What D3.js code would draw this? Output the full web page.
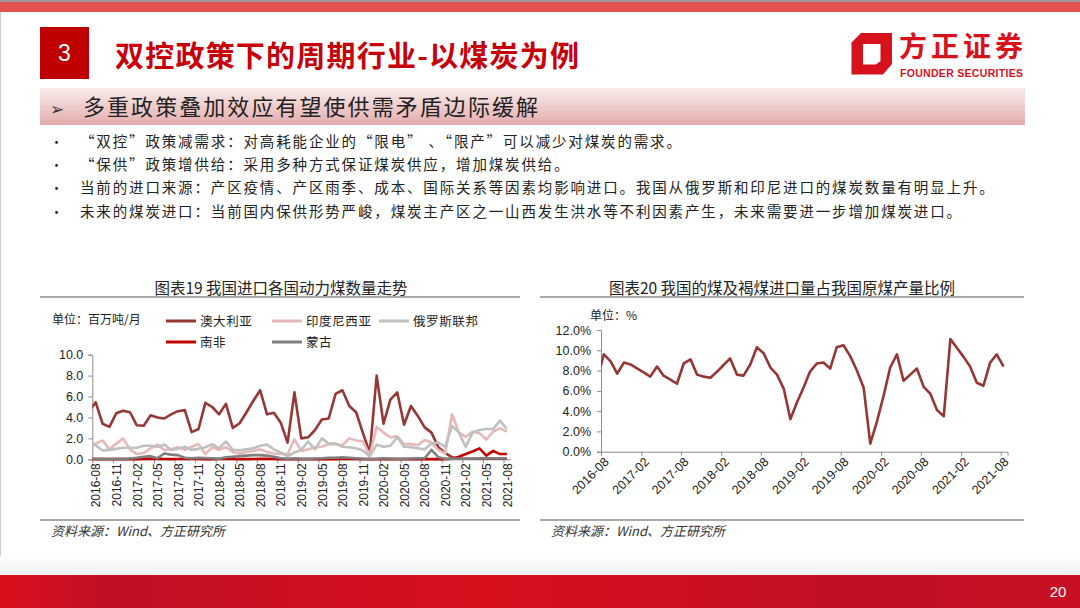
<!DOCTYPE html>
<html>
<head>
<meta charset="utf-8">
<script src="https://cdnjs.cloudflare.com/ajax/libs/d3/7.8.5/d3.min.js"></script>
<style>
  html, body { margin: 0; padding: 0; background: #fff; }
  svg { display: block; font-family: "Noto Sans CJK SC", "Liberation Sans", sans-serif; }
  .num { font-family: "Liberation Sans", Arial, sans-serif; }
</style>
</head>
<body>
<svg id="page" width="1080" height="608"></svg>
<script>
// months 2016-07 .. 2021-08 (first month sits left of the axis and gets clipped)
var months = d3.timeMonth.range(new Date(2016, 6, 1), new Date(2021, 8, 1));

// chart 19 : 百万吨/月
var australia = [4.55, 5.45, 3.4, 3.1, 4.4, 4.65, 4.5, 3.25, 3.2, 4.2, 4.0, 3.9, 4.3, 4.6, 4.7, 2.6, 2.9, 5.4, 5.0, 4.3, 5.3, 3.0, 3.45, 4.5, 5.6, 6.6, 4.3, 4.45, 3.5, 1.6, 6.4, 2.0,
  2.1, 2.8, 3.8, 3.9, 6.25, 6.6, 5.1, 4.5, 2.5, 0.6, 8.0, 3.4, 5.7, 6.4, 3.3, 5.1, 4.15, 3.05, 2.55, 1.15, 0.6, 0.2,
  0.05, 0.05, 0.05, 0.05, 0.05, 0.05, 0.05, 0.05];
var indonesia = [1.3, 1.5, 1.8, 0.95, 1.5, 2.0, 0.95, 0.5, 0.6, 1.05, 1.4, 0.9, 0.95, 1.15, 0.9, 1.2, 1.45, 0.5, 1.15, 0.9, 1.15, 0.7, 0.55, 0.7, 0.8, 0.95, 0.7, 0.55, 0.5, 0.5, 1.9, 0.8,
  0.95, 1.15, 1.2, 1.45, 1.45, 1.35, 2.0, 1.8, 1.7, 0.4, 3.1, 2.55, 2.1, 2.2, 1.45, 1.45, 1.35, 1.85, 1.6, 0.9,
  0.55, 4.3, 2.55, 2.15, 2.65, 2.5, 1.9, 2.65, 2.95, 2.65];
var russia = [1.4, 1.35, 0.85, 0.9, 1.0, 1.1, 1.1, 1.1, 1.3, 1.3, 1.2, 1.4, 0.9, 1.0, 1.2, 0.9, 1.0, 1.15, 1.45, 1.05, 1.7, 0.9, 0.85, 0.95, 1.05, 1.3, 1.4, 0.95, 0.65, 0.3, 0.65, 0.9,
  1.7, 0.95, 2.0, 1.5, 1.5, 1.2, 1.15, 1.05, 0.85, 0.3, 1.4, 1.2, 1.3, 2.1, 1.2, 1.15, 1.05, 0.95, 1.5, 1.6,
  1.2, 3.2, 2.55, 1.2, 2.55, 2.8, 2.9, 2.9, 3.7, 2.9];
var southAfrica = [0.02, 0.02, 0.03, 0.02, 0.02, 0.03, 0.02, 0.02, 0.03, 0.05, 0.04, 0.03, 0.02, 0.03, 0.05, 0.04, 0.03, 0.02, 0.02, 0.03,
  0.04, 0.03, 0.02, 0.02, 0.03, 0.04, 0.05, 0.03, 0.02, 0.02, 0.02, 0.03, 0.02, 0.02, 0.03, 0.02, 0.02, 0.03, 0.04, 0.03,
  0.02, 0.02, 0.02, 0.03, 0.02, 0.02, 0.03, 0.02, 0.02, 0.02, 0.03, 0.02, 0.02, 0.05,
  0.25, 0.5, 0.75, 1.05, 0.35, 0.8, 0.5, 0.5];
var mongolia = [0.05, 0.05, 0.05, 0.03, 0.05, 0.05, 0.08, 0.15, 0.25, 0.3, 0.1, 0.55, 0.45, 0.4, 0.15, 0.1, 0.15, 0.12, 0.1, 0.05, 0.2,
  0.25, 0.3, 0.35, 0.4, 0.4, 0.35, 0.25, 0.1, 0.05, 0.1, 0.05, 0.05, 0.08, 0.1, 0.15, 0.15, 0.2, 0.15, 0.1, 0.05,
  0.03, 0.05, 0.1, 0.08, 0.05, 0.05, 0.08, 0.1, 0.1, 0.9, 0.2, 0.05, 0.05, 0.05, 0.05, 0.08, 0.1, 0.1, 0.1, 0.1, 0.1];

var seriesNames = ["澳大利亚", "印度尼西亚", "俄罗斯联邦", "南非", "蒙古"];
var seriesColors = ["#953735", "#e6b9b8", "#c0c0c0", "#c00000", "#7f7f7f"];
var seriesData = [australia, indonesia, russia, southAfrica, mongolia];

var leftTicks = ["2016-08", "2016-11", "2017-02", "2017-05", "2017-08", "2017-11", "2018-02", "2018-05", "2018-08", "2018-11",
  "2019-02", "2019-05", "2019-08", "2019-11", "2020-02", "2020-05", "2020-08", "2020-11", "2021-02", "2021-05", "2021-08"];
var leftY = [0, 2, 4, 6, 8, 10];

// chart 20 : 煤及褐煤进口量 / 原煤产量, %
var importRatio = [7.2, 9.6, 8.9, 7.7, 8.8, 8.6,
  8.2, 7.8, 7.4, 8.4, 7.5, 7.1, 6.7, 8.7, 9.1, 7.6, 7.4, 7.3,
  7.9, 8.6, 9.2, 7.6, 7.5, 8.6, 10.3, 9.7, 8.3, 7.6, 6.2, 3.2,
  4.9, 6.4, 7.9, 8.7, 8.8, 8.2, 10.3, 10.5, 9.4, 8.0, 6.3, 0.8,
  3.0, 5.6, 8.3, 9.6, 7.0, 7.6, 8.2, 6.4, 5.7, 4.1, 3.5, 11.1,
  10.2, 9.3, 8.4, 6.8, 6.5, 8.8, 9.6, 8.4];
var rightTicks = ["2016-08", "2017-02", "2017-08", "2018-02", "2018-08", "2019-02", "2019-08", "2020-02", "2020-08", "2021-02", "2021-08"];
var rightY = [0, 2, 4, 6, 8, 10, 12];

var bullets = [
  "“双控”政策减需求：对高耗能企业的“限电” 、“限产”可以减少对煤炭的需求。",
  "“保供”政策增供给：采用多种方式保证煤炭供应，增加煤炭供给。",
  "当前的进口来源：产区疫情、产区雨季、成本、国际关系等因素均影响进口。我国从俄罗斯和印尼进口的煤炭数量有明显上升。",
  "未来的煤炭进口：当前国内保供形势严峻，煤炭主产区之一山西发生洪水等不利因素产生，未来需要进一步增加煤炭进口。"
];

var svg = d3.select("#page");
var defs = svg.append("defs");

// ---------- page frame ----------
var bandGrad = defs.append("linearGradient").attr("id", "band").attr("x1", 0).attr("y1", 0).attr("x2", 0).attr("y2", 1);
bandGrad.append("stop").attr("offset", "0%").attr("stop-color", "#f9ecec");
bandGrad.append("stop").attr("offset", "100%").attr("stop-color", "#e4acac");
var footGrad = defs.append("linearGradient").attr("id", "foot").attr("x1", 0).attr("y1", 0).attr("x2", 1).attr("y2", 0);
footGrad.append("stop").attr("offset", "0%").attr("stop-color", "#d9101c");
footGrad.append("stop").attr("offset", "10%").attr("stop-color", "#c10f25");
footGrad.append("stop").attr("offset", "45%").attr("stop-color", "#d70f1c");
footGrad.append("stop").attr("offset", "80%").attr("stop-color", "#c10f25");
footGrad.append("stop").attr("offset", "100%").attr("stop-color", "#c90f22");
var shadeGrad = defs.append("linearGradient").attr("id", "shade").attr("x1", 0).attr("y1", 0).attr("x2", 0).attr("y2", 1);
shadeGrad.append("stop").attr("offset", "0%").attr("stop-color", "#ffffff");
shadeGrad.append("stop").attr("offset", "100%").attr("stop-color", "#eef0f2");

svg.append("rect").attr("x", 0).attr("y", 0).attr("width", 1080).attr("height", 2).attr("fill", "#9a9a9a");
svg.append("rect").attr("x", 0).attr("y", 2).attr("width", 1080).attr("height", 10).attr("fill", "#e2524e");
svg.append("rect").attr("x", 0).attr("y", 12).attr("width", 1).attr("height", 560).attr("fill", "#cfcfcf");

svg.append("rect").attr("x", 40).attr("y", 27).attr("width", 49).attr("height", 52).attr("fill", "#c00000");
svg.append("text").attr("class", "num").attr("x", 64.5).attr("y", 61).attr("text-anchor", "middle")
  .attr("font-size", 23).attr("fill", "#fff").text("3");
svg.append("text").attr("x", 115).attr("y", 67).attr("font-size", 29).attr("font-weight", "bold")
  .attr("fill", "#c8000a").attr("textLength", 464).text("双控政策下的周期行业-以煤炭为例");

// logo
svg.append("path")
  .attr("d", "M861,33 L892,33 L892,64 L883,74.5 L851.5,74.5 L851.5,42.5 Z M863,44 L880.5,44 L880.5,61 L876,64.5 L863,64.5 Z")
  .attr("fill", "#d7121d").attr("fill-rule", "evenodd");
svg.append("text").attr("x", 899).attr("y", 57).attr("font-size", 28).attr("font-weight", "bold")
  .attr("fill", "#d7121d").attr("textLength", 124).text("方正证券");
svg.append("text").attr("class", "num").attr("x", 900).attr("y", 77).attr("font-size", 10.5).attr("font-weight", "bold")
  .attr("fill", "#d7121d").attr("textLength", 123).text("FOUNDER SECURITIES");

// sub heading band
svg.append("rect").attr("x", 40).attr("y", 88).attr("width", 985).attr("height", 37).attr("fill", "url(#band)");
svg.append("text").attr("x", 50).attr("y", 115).attr("font-size", 17).attr("fill", "#333").text("➢");
svg.append("text").attr("x", 83).attr("y", 115).attr("font-size", 22).attr("fill", "#222")
  .attr("textLength", 455).text("多重政策叠加效应有望使供需矛盾边际缓解");

// bullets
var bl = svg.append("g");
bullets.forEach(function(t, i) {
  var y = [147, 170, 193, 217][i];
  bl.append("text").attr("x", 50).attr("y", y).attr("font-size", 13).attr("fill", "#222").text("•");
  bl.append("text").attr("x", 80).attr("y", y).attr("font-size", 14.5).attr("letter-spacing", 1.85)
    .attr("fill", "#222").text(t);
});

// ---------- common bits ----------
function frame(x0, x1, title, cx) {
  svg.append("text").attr("x", cx).attr("y", 294).attr("text-anchor", "middle").attr("font-size", 15.5)
    .attr("fill", "#222").text(title);
  svg.append("line").attr("x1", x0).attr("x2", x1).attr("y1", 297).attr("y2", 297)
    .attr("stroke", "#8c8c8c").attr("stroke-width", 1.3);
  svg.append("line").attr("x1", x0).attr("x2", x1).attr("y1", 520).attr("y2", 520)
    .attr("stroke", "#8c8c8c").attr("stroke-width", 1.3);
  svg.append("text").attr("x", x0 + 11).attr("y", 536).attr("font-size", 13).attr("font-style", "italic")
    .attr("fill", "#333").attr("font-family", "'Noto Sans CJK SC', 'Liberation Serif', serif").text("资料来源：Wind、方正研究所");
}

function styleAxis(g) {
  g.selectAll(".domain").attr("stroke", "#8c8c8c");
  g.selectAll(".tick line").attr("stroke", "#8c8c8c");
  g.selectAll("text").attr("fill", "#222").attr("font-family", "'Liberation Sans', Arial, sans-serif");
}

// ---------- chart 19 ----------
frame(40, 520, "图表19 我国进口各国动力煤数量走势", 281);

var lx = d3.scaleLinear().domain([-0.5, 60.5]).range([92.3, 510.3]);
var ly = d3.scaleLinear().domain([0, 10]).range([459.3, 354.7]);

svg.append("text").attr("x", 52).attr("y", 324).attr("font-size", 12).attr("fill", "#222").text("单位：百万吨/月");
var legendPos = [[166, 321], [272, 321], [379, 321], [166, 342], [272, 342]];
seriesNames.forEach(function(n, i) {
  var p = legendPos[i];
  svg.append("line").attr("x1", p[0]).attr("x2", p[0] + 30).attr("y1", p[1]).attr("y2", p[1])
    .attr("stroke", seriesColors[i]).attr("stroke-width", 3);
  svg.append("text").attr("x", p[0] + 34).attr("y", p[1] + 4.5).attr("font-size", 12.5).attr("letter-spacing", 0.6)
    .attr("fill", "#222").text(n);
});

var gly = svg.append("g").attr("transform", "translate(92.3,0)")
  .call(d3.axisLeft(ly).tickValues(leftY).tickSize(4).tickPadding(5).tickFormat(d3.format(".1f")));
gly.selectAll("text").attr("font-size", 12.5);
styleAxis(gly);

var labelIdx = leftTicks.map(function(d, i) { return i * 3; });
var glx = svg.append("g").attr("transform", "translate(0,459.3)")
  .call(d3.axisBottom(lx).tickValues(labelIdx).tickSize(0).tickPadding(4)
    .tickFormat(function(d, i) { return leftTicks[i]; }));
glx.selectAll("text").attr("font-size", 12).attr("text-anchor", "end")
  .attr("transform", "rotate(-90)").attr("dx", "-4").attr("x", 0).attr("y", 0).attr("dy", "0.35em");
styleAxis(glx);
var gmarks = svg.append("g").attr("transform", "translate(0,459.3)")
  .call(d3.axisBottom(lx).tickValues(labelIdx.map(function(d) { return d - 0.5; })).tickSize(4).tickFormat(""));
gmarks.select(".domain").remove();
styleAxis(gmarks);

defs.append("clipPath").attr("id", "clipL").append("rect")
  .attr("x", 92.3).attr("y", 340).attr("width", 420).attr("height", 125);
var lineL = d3.line().x(function(d, i) { return lx(i - 1); }).y(function(d) { return ly(d); });
var gl = svg.append("g").attr("clip-path", "url(#clipL)");
seriesData.forEach(function(s, i) {
  gl.append("path").datum(s).attr("d", lineL).attr("fill", "none")
    .attr("stroke", seriesColors[i]).attr("stroke-width", 2.6).attr("stroke-linejoin", "round");
});

// ---------- chart 20 ----------
frame(540, 1024, "图表20 我国的煤及褐煤进口量占我国原煤产量比例", 782);

var rx = d3.scaleTime().domain([new Date(2016, 7, 1), new Date(2021, 8, 1)]).range([601, 1007.5]);
var ry = d3.scaleLinear().domain([0, 12]).range([451.7, 330]);

svg.append("text").attr("x", 590).attr("y", 320).attr("font-size", 12).attr("fill", "#222").text("单位：%");

var gry = svg.append("g").attr("transform", "translate(601,0)")
  .call(d3.axisLeft(ry).tickValues(rightY).tickSize(4).tickPadding(6)
    .tickFormat(function(d) { return d3.format(".1f")(d) + "%"; }));
gry.selectAll("text").attr("font-size", 12.5);
styleAxis(gry);

var parseM = d3.timeParse("%Y-%m");
var grx = svg.append("g").attr("transform", "translate(0,451.7)")
  .call(d3.axisBottom(rx).tickValues(rightTicks.map(parseM)).tickSize(4).tickPadding(3)
    .tickFormat(d3.timeFormat("%Y-%m")));
grx.selectAll("text").attr("font-size", 12.5).attr("text-anchor", "end")
  .attr("transform", "rotate(-45)").attr("dx", "-2").attr("dy", "0.6em").attr("y", 6);
styleAxis(grx);

defs.append("clipPath").attr("id", "clipR").append("rect")
  .attr("x", 601).attr("y", 320).attr("width", 420).attr("height", 140);
var lineR = d3.line()
  .x(function(d, i) { return rx(d3.timeDay.offset(months[i], 13)); })
  .y(function(d) { return ry(d); });
svg.append("g").attr("clip-path", "url(#clipR)")
  .append("path").datum(importRatio).attr("d", lineR).attr("fill", "none")
  .attr("stroke", "#953735").attr("stroke-width", 2.6).attr("stroke-linejoin", "round");

// ---------- footer ----------
svg.append("rect").attr("x", 0).attr("y", 556).attr("width", 1080).attr("height", 20).attr("fill", "url(#shade)");
svg.append("rect").attr("x", 0).attr("y", 575).attr("width", 1080).attr("height", 33).attr("fill", "url(#foot)");
svg.append("text").attr("class", "num").attr("x", 1058).attr("y", 597).attr("text-anchor", "middle")
  .attr("font-size", 15).attr("fill", "#fff").text("20");
</script>
</body>
</html>
